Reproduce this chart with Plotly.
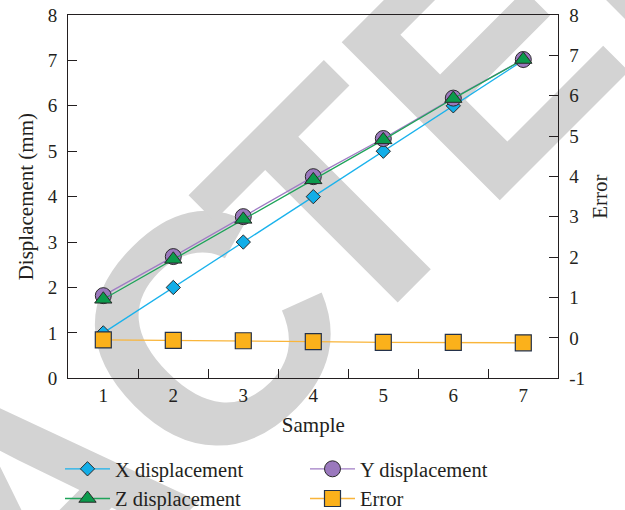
import plotly.graph_objects as go

# ---- data ----
samples = [1, 2, 3, 4, 5, 6, 7]
x_disp = [1.0, 2.0, 3.0, 4.0, 5.0, 6.0, 7.0]
y_disp = [1.82, 2.68, 3.56, 4.44, 5.28, 6.17, 7.02]
z_disp = [1.74, 2.62, 3.50, 4.37, 5.25, 6.16, 7.02]
error = [-0.05, -0.06, -0.07, -0.09, -0.11, -0.11, -0.12]
left_ticks = [0, 1, 2, 3, 4, 5, 6, 7, 8]
right_ticks = [-1, 0, 1, 2, 3, 4, 5, 6, 7, 8]
right_tick_labels = ["-1", "0", "1", "2", "3", "4", "5", "6", "7", "8"]

W, H = 625, 510
FONT = "Liberation Serif"
AX = "#231f20"
EDGE = "#2a2a2a"

fig = go.Figure()

# watermark text centre in page pixels (x from left, y from top)
WM_CX, WM_CY = 29, 512
WM_TEXT = 'RETRA<span style="letter-spacing:-38px">C</span>TED'
fig.add_trace(go.Bar(
    x=[WM_CX], y=[80], base=[H - WM_CY - 40], width=[100],
    xaxis="x", yaxis="y",
    marker=dict(color="rgba(0,0,0,0)", line=dict(width=0)),
    text=[WM_TEXT], textposition="inside", insidetextanchor="middle",
    textangle=-45, constraintext="none", cliponaxis=False,
    textfont=dict(family="Liberation Sans", size=325, color="#d3d3d3", weight="bold"),
    showlegend=False, hoverinfo="skip",
))

fig.add_trace(go.Scatter(
    x=samples, y=x_disp, name="X displacement", mode="lines+markers",
    xaxis="x2", yaxis="y2",
    line=dict(color="#1ab2ec", width=1.3),
    marker=dict(symbol="diamond", size=11, color="#12aee8", line=dict(color=EDGE, width=1)),
))
fig.add_trace(go.Scatter(
    x=samples, y=y_disp, name="Y displacement", mode="lines+markers",
    xaxis="x2", yaxis="y2",
    line=dict(color="#a07cc5", width=1.3),
    marker=dict(symbol="circle", size=16, color="#9a78bd", line=dict(color=EDGE, width=1)),
))
fig.add_trace(go.Scatter(
    x=samples, y=z_disp, name="Z displacement", mode="lines+markers",
    xaxis="x2", yaxis="y2",
    line=dict(color="#1fa35a", width=1.3),
    marker=dict(symbol="triangle-up", size=15, color="#0b9a4c", line=dict(color=EDGE, width=1)),
))
fig.add_trace(go.Scatter(
    x=samples, y=error, name="Error", mode="lines+markers",
    xaxis="x2", yaxis="y3",
    line=dict(color="#f9b53a", width=1.3),
    marker=dict(symbol="square", size=16, color="#fbb11b", line=dict(color="#24324a", width=1.2)),
))

x0, x1 = 68.3 / W, 558.3 / W
y0, y1 = (H - 378.3) / H, (H - 15) / H

tickfont = dict(family=FONT, size=19, color=AX)
titlefont = dict(family=FONT, size=21, color=AX)

fig.update_layout(
    width=W, height=H,
    margin=dict(l=0, r=0, t=0, b=0, autoexpand=False),
    paper_bgcolor="white", plot_bgcolor="rgba(0,0,0,0)",
    font=dict(family=FONT, size=19, color=AX),
    xaxis=dict(domain=[0, 1], range=[0, W], visible=False, fixedrange=True),
    yaxis=dict(domain=[0, 1], range=[0, H], visible=False, fixedrange=True),
    xaxis2=dict(
        domain=[x0, x1], anchor="y2", range=[0.5, 7.5],
        tickmode="array", tickvals=samples, ticktext=[str(s) for s in samples],
        ticks="", showgrid=False, zeroline=False,
        showline=True, linecolor=AX, linewidth=1.3, mirror=True,
        minor=dict(tickmode="array", tickvals=[1.5, 2.5, 3.5, 4.5, 5.5, 6.5],
                   ticks="inside", ticklen=9, tickcolor=AX, tickwidth=1.3, showgrid=False),
        tickfont=tickfont, ticklabelstandoff=0, automargin=False,
        title=dict(text="Sample", font=titlefont, standoff=12),
    ),
    yaxis2=dict(
        domain=[y0, y1], anchor="x2", range=[0, 8],
        tickmode="array", tickvals=left_ticks,
        ticks="inside", ticklen=9, tickcolor=AX, tickwidth=1.3,
        showgrid=False, zeroline=False,
        showline=True, linecolor=AX, linewidth=1.3,
        tickfont=tickfont, ticklabelstandoff=6, automargin=False,
        title=dict(text="Displacement (mm)", font=titlefont, standoff=8),
    ),
    yaxis3=dict(
        overlaying="y2", anchor="x2", side="right", range=[-1, 8],
        tickmode="array", tickvals=right_ticks, ticktext=right_tick_labels,
        ticks="inside", ticklen=9, tickcolor=AX, tickwidth=1.3,
        showgrid=False, zeroline=False,
        showline=True, linecolor=AX, linewidth=1.3,
        tickfont=tickfont, ticklabelstandoff=6, automargin=False,
        title=dict(text="Error", font=titlefont, standoff=8),
    ),
    legend=dict(
        orientation="h", x=60 / W, xanchor="left", y=(H - 449) / H, yanchor="top",
        bgcolor="rgba(0,0,0,0)", font=dict(family=FONT, size=20.5, color=AX),
        itemwidth=45, entrywidth=185, traceorder="normal",
    ),
    showlegend=True,
)

fig.write_html("out.html", config={"displayModeBar": False},
               post_script="document.body.style.margin='0';")
